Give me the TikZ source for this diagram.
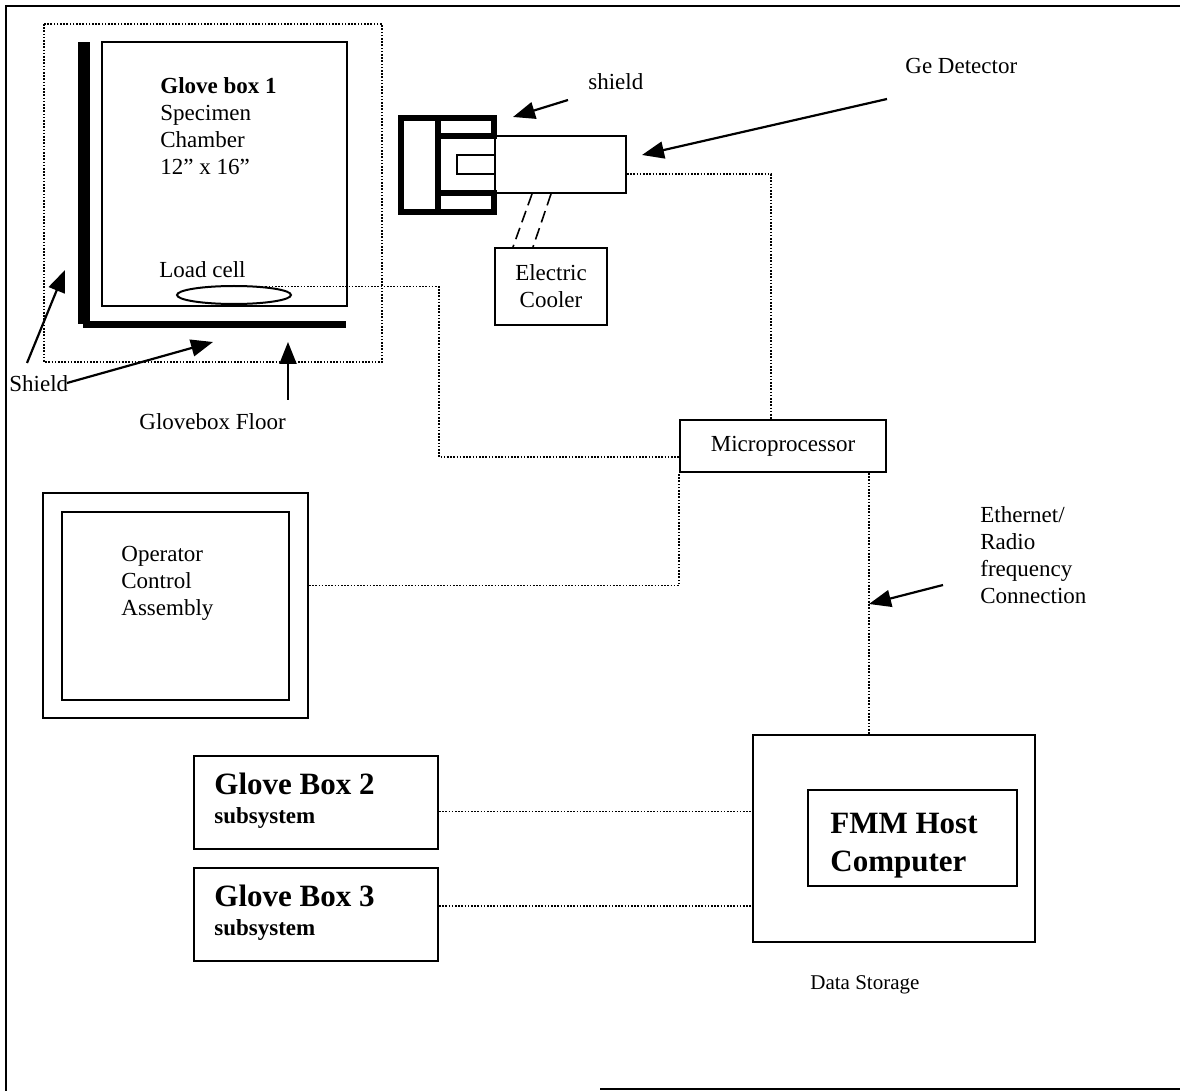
\documentclass[tikz,border=0pt]{standalone}
\usepackage{fontspec}
\setmainfont{Liberation Serif}
\usepackage{tikz}
\usetikzlibrary{arrows.meta, positioning, shapes.geometric}
\newcommand{\boxtitle}[1]{{\fontsize{15.5}{19}\selectfont\bfseries #1}}

\begin{document}
\begin{tikzpicture}[x=0.5pt, y=-0.5pt,
  font=\fontsize{11.5}{13.5}\selectfont,
  box/.style={draw, line width=1pt, inner sep=0pt},
  link/.style={line width=0.8pt, dash pattern=on 0.8pt off 0.8pt},
  pointer/.style={line width=1.1pt, -{Triangle[length=11pt, width=8.5pt]}},
  lbl/.style={inner sep=0pt, align=left}]

\useasboundingbox (0,0) rectangle (1180,1091);

% Frame
\draw[line width=1.2pt] (1180,6) -- (6,6) -- (6,1091);
\draw[line width=1.2pt] (600,1089) -- (1180,1089);

% Glove box 1, shield and floor
\draw[link] (44,24) rectangle (382,362);
\fill (78,42) rectangle (90,324);
\fill (83,321) rectangle (346,328);
\node[box, minimum width=122.5pt, minimum height=132pt] (gbone) at (224.5,174) {};
\node[lbl, anchor=north west] (gbonetxt) at (160,77)
  {\textbf{Glove box 1}\\Specimen\\Chamber\\12” x 16”};
\node[lbl, anchor=base west] (lcelltxt) at (159,278) {Load cell};
\node[box, ellipse, minimum width=57pt, minimum height=9pt] (lcell) at (234,295) {};
\node[lbl, anchor=base west] (shieldlbl) at (9,392) {Shield};
\node[lbl, anchor=base west] (floorlbl) at (139,430) {Glovebox Floor};

% Ge detector with its shield and cooler
\draw[line width=3pt, line join=miter]
  (494,136) -- (494,118) -- (401,118) -- (401,212) -- (494,212) -- (494,193);
\draw[line width=3pt] (438,118) -- (438,212);
\draw[line width=3pt] (438,136) -- (497,136);
\draw[line width=3pt] (438,193) -- (497,193);
\draw[line width=1pt] (457,155) rectangle (495,174);
\node[box, minimum width=65.5pt, minimum height=28.5pt] (ge) at (560.5,164.5) {};
\node[box, minimum width=56pt, minimum height=38.5pt, align=center] (cooler) at (551,286.5)
  {Electric\\Cooler};
\draw[line width=0.8pt, dash pattern=on 6pt off 3pt]
  ([xshift=-14.25pt]ge.south) -- ([xshift=-19pt]cooler.north);
\draw[line width=0.8pt, dash pattern=on 6pt off 3pt]
  ([xshift=-4.75pt]ge.south) -- ([xshift=-9pt]cooler.north);
\node[lbl, anchor=base west] (geshieldlbl) at (588,90) {shield};
\node[lbl, anchor=base west] (gelbl) at (905,74) {Ge Detector};

% Microprocessor and operator control
\node[box, minimum width=103pt, minimum height=26pt] (micro) at (783,446) {Microprocessor};
\node[box, minimum width=132.5pt, minimum height=112.5pt] (ocaout) at (175.5,605.5) {};
\node[box, minimum width=113.5pt, minimum height=94pt] (oca) at (175.5,606) {};
\node[lbl, anchor=west] (ocatxt) at (121,583) {Operator\\Control\\Assembly};

% Glove boxes 2 and 3
\node[box, minimum width=122pt, minimum height=46.5pt] (gbtwo) at (316,802.5) {};
\node[lbl, anchor=north west] (gbtwotxt) at (214,773)
  {\boxtitle{Glove Box 2}\\[1pt]\textbf{subsystem}};
\node[box, minimum width=122pt, minimum height=46.5pt] (gbthree) at (316,914) {};
\node[lbl, anchor=north west] (gbthreetxt) at (214,884.5)
  {\boxtitle{Glove Box 3}\\[1pt]\textbf{subsystem}};

% Host computer
\node[box, minimum width=141pt, minimum height=103.5pt] (host) at (894,838.5) {};
\node[box, minimum width=104.5pt, minimum height=48pt] (hostcpu) at (912.5,838) {};
\node[lbl, anchor=north west, font=\fontsize{15.5}{19}\selectfont\bfseries] (hosttxt)
  at (830,812.5) {FMM Host\\Computer};
\node[lbl, anchor=base west, font=\fontsize{10.5}{12}\selectfont] (storelbl)
  at (810,989) {Data Storage};
\node[lbl, anchor=north west] (netlbl) at (980,506)
  {Ethernet/\\Radio\\frequency\\Connection};

% Connections
\draw[link] (lcell.15) -- ([xshift=45.5pt]gbone.east |- lcell.15)
  |- ([yshift=-5.5pt]micro.west);
\draw[link] ([yshift=-4.75pt]ge.east) -| ([xshift=-6pt]micro.north);
\draw[link] ([yshift=10pt]ocaout.east) -| (micro.south west);
\draw[link] ([xshift=-9pt]micro.south east) -- ([xshift=-9pt]micro.south east |- host.north);
\draw[link] ([yshift=-4.5pt]gbtwo.east) -- ([yshift=-4.5pt]gbtwo.east -| host.west);
\draw[link] ([yshift=4pt]gbthree.east) -- ([yshift=4pt]gbthree.east -| host.west);

% Pointers
\coordinate (shtailA) at (27,363);   \coordinate (shtipA) at (65,270);
\coordinate (shtailB) at (67,383);   \coordinate (shtipB) at (213,342);
\coordinate (fltail) at (288,400);   \coordinate (fltip) at (288,342);
\coordinate (gshtail) at (568,100);  \coordinate (gshtip) at (513,117);
\coordinate (getail) at (887,99);    \coordinate (getip) at (642,155);
\coordinate (nettail) at (943,585);  \coordinate (nettip) at (869,604);
\draw[pointer] (shtailA) -- (shtipA);
\draw[pointer] (shtailB) -- (shtipB);
\draw[pointer] (fltail) -- (fltip);
\draw[pointer] (gshtail) -- (gshtip);
\draw[pointer] (getail) -- (getip);
\draw[pointer] (nettail) -- (nettip);

\end{tikzpicture}
\end{document}
